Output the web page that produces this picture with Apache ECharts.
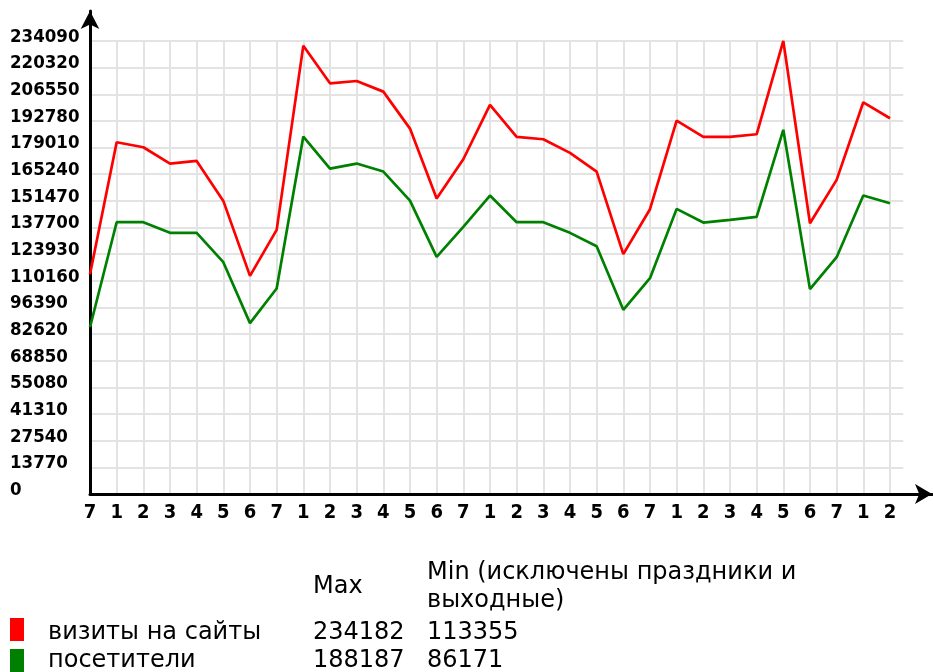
<!DOCTYPE html>
<html>
<head>
<meta charset="utf-8">
<script src="https://cdn.jsdelivr.net/npm/echarts@6/dist/echarts.min.js"></script>
<style>
  html, body { margin: 0; padding: 0; background: #fff; }
  #char { width: 933px; height: 672px; }
</style>
</head>
<body>
<div id="char"></div>
<script>
// дни недели по оси X
const dayLabels = ['7', '1', '2', '3', '4', '5', '6', '7', '1', '2', '3', '4', '5', '6', '7',
  '1', '2', '3', '4', '5', '6', '7', '1', '2', '3', '4', '5', '6', '7', '1', '2']

// визиты на сайты
const visits = [113600, 181760, 179180, 170750, 172130, 151470, 112740, 136500, 231680, 212230,
  213430, 207930, 188820, 152680, 172990, 201040, 184520, 183310, 176260, 166620,
  123930, 147170, 192950, 184520, 184520, 185900, 234182, 139940, 162310, 202420, 194160]

// посетители
const visitors = [86171, 140450, 140450, 134950, 134950, 119800, 88300, 106200, 184690, 168170,
  170750, 166620, 151640, 122550, 138040, 154220, 140450, 140450, 134950, 128060,
  95190, 111540, 147340, 140280, 141660, 143210, 188187, 105860, 122380, 154220, 150270]

// таблица под графиком
const seriesNames = ['визиты на сайты', 'посетители']
const maxLabels = ['234182', '188187']
const minLabels = ['113355', '86171']
const colors = ['#ff0000', '#008000']

const yMax = 234090
const yStep = 13770

const FONT = 'DejaVu Sans'
const FONT_AXIS = 'DejaVu Sans Condensed'
let myChart = echarts.init(document.getElementById('char'))

let axisArrow = {
  show: true,
  symbol: ['none', 'arrow'],
  lineStyle: { color: '#000', width: 3 }
}

let txt = (text, x, y) => ({
  type: 'text',
  style: { text: text, x: x, y: y, font: '24px ' + FONT, lineHeight: 28, fill: '#000', verticalAlign: 'middle' }
})

let table = []
seriesNames.forEach((name, i) => {
  let y = 633 + i * 28
  table.push({ type: 'rect', shape: { x: 10, y: 618 + i * 31, width: 14, height: 23 }, style: { fill: colors[i] } })
  table.push(txt(name, 48, y))
  table.push(txt(maxLabels[i], 313, y))
  table.push(txt(minLabels[i], 427, y))
})
table.push(txt('Max', 313, 587))
table.push(txt('Min (исключены праздники и\nвыходные)', 427, 587))

let option = {
  animation: false,
  grid: [
    { left: 90, top: 41, width: 813.3, height: 453 },
    // сетка только для стрелок осей
    { left: 90, top: 11, right: 1, bottom: 178 }
  ],
  xAxis: [
    {
      type: 'value',
      min: 0,
      max: 30.5,
      interval: 1,
      axisLine: { show: false },
      axisTick: { show: false },
      axisLabel: {
        color: '#000',
        fontFamily: FONT_AXIS,
        fontWeight: 'bold',
        fontSize: 20,
        margin: 9,
        showMaxLabel: false,
        formatter: (v) => dayLabels[v] || ''
      },
      splitLine: { show: true, showMaxLine: false, lineStyle: { color: '#e3e3e3', width: 2 } }
    },
    {
      gridIndex: 1, type: 'value', min: 0, max: 1,
      axisLine: Object.assign({ symbolSize: [15, 17] }, axisArrow),
      axisTick: { show: false }, axisLabel: { show: false }, splitLine: { show: false }
    }
  ],
  yAxis: [
    {
      type: 'value',
      min: 0,
      max: yMax,
      interval: yStep,
      axisLine: { show: false },
      axisTick: { show: false },
      axisLabel: {
        color: '#000',
        fontFamily: FONT_AXIS,
        fontWeight: 'bold',
        fontSize: 18.5,
        align: 'left',
        verticalAlign: 'bottom',
        lineHeight: 8,
        margin: 80,
        formatter: (v) => String(v)
      },
      splitLine: { show: true, lineStyle: { color: '#e3e3e3', width: 2 } }
    },
    {
      gridIndex: 1, type: 'value', min: 0, max: 1,
      axisLine: Object.assign({ symbolSize: [14, 18] }, axisArrow),
      axisTick: { show: false }, axisLabel: { show: false }, splitLine: { show: false }
    }
  ],
  series: [
    {
      name: seriesNames[0],
      type: 'line',
      data: visits.map((v, i) => [i, v]),
      showSymbol: false,
      clip: false,
      lineStyle: { color: colors[0], width: 2.7 },
      z: 3
    },
    {
      name: seriesNames[1],
      type: 'line',
      data: visitors.map((v, i) => [i, v]),
      showSymbol: false,
      clip: false,
      lineStyle: { color: colors[1], width: 2.7 },
      z: 3
    }
  ],
  graphic: table
}

myChart.setOption(option)
</script>
</body>
</html>
